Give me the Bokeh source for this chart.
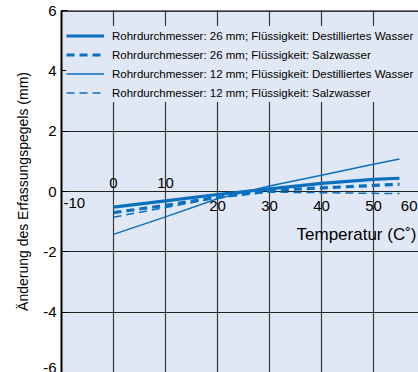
from bokeh.plotting import figure
from bokeh.models import Legend, LegendItem, Span, Label, FixedTicker, Range1d, PrintfTickFormatter
from bokeh.core.properties import value
from bokeh.embed import file_html
from bokeh.resources import INLINE

# data
temps = [0, 10, 20, 30, 40, 50, 55]
d26_dest = [-0.52, -0.31, -0.10, 0.09, 0.27, 0.40, 0.44]
d26_salt = [-0.70, -0.46, -0.19, 0.04, 0.12, 0.20, 0.24]
d12_dest = [-1.42, -0.84, -0.24, 0.18, 0.54, 0.90, 1.08]
d12_salt = [-0.85, -0.53, -0.21, -0.02, -0.04, -0.06, -0.07]
labels = [
    "Rohrdurchmesser: 26 mm; Flüssigkeit: Destilliertes Wasser",
    "Rohrdurchmesser: 26 mm; Flüssigkeit: Salzwasser",
    "Rohrdurchmesser: 12 mm; Flüssigkeit: Destilliertes Wasser",
    "Rohrdurchmesser: 12 mm; Flüssigkeit: Salzwasser",
]
x_ticks = [-10, 0, 10, 20, 30, 40, 50, 60]
x_tick_labels = ["-10", "0", "10", "20", "30", "40", "50", "60"]
y_ticks = [-6, -4, -2, 0, 2, 4, 6]
x_title = "Temperatur (C˚)"
y_title = "Änderung des Erfassungspegels (mm)"

BLUE = "#0b6fc0"
BG = "#e0e8f5"
FONT = "Liberation Sans"

p = figure(width=418, height=372, output_backend="svg", toolbar_location=None,
           x_range=Range1d(-10, 58.65), y_range=Range1d(-6, 6),
           min_border_left=61, min_border_right=0, min_border_top=10, min_border_bottom=0)
p.background_fill_color = BG
p.border_fill_color = "white"
p.outline_line_color = None
p.xaxis.visible = False

p.yaxis.ticker = FixedTicker(ticks=y_ticks)
p.yaxis.formatter = PrintfTickFormatter(format="%d")
p.yaxis.major_tick_out = 0
p.yaxis.major_tick_in = 6
p.yaxis.major_tick_line_color = "black"
p.yaxis.minor_tick_line_color = None
p.yaxis.axis_line_color = "black"
p.yaxis.axis_line_width = 2
p.yaxis.major_label_text_font = FONT
p.yaxis.major_label_text_font_size = "15px"
p.yaxis.major_label_text_color = "black"
p.yaxis.major_label_standoff = 5
p.yaxis.axis_label = y_title
p.yaxis.axis_label_text_font = FONT
p.yaxis.axis_label_text_font_size = "14px"
p.yaxis.axis_label_text_font_style = "normal"
p.yaxis.axis_label_text_color = "black"
p.yaxis.axis_label_standoff = 9

p.xgrid.ticker = FixedTicker(ticks=x_ticks)
p.ygrid.ticker = FixedTicker(ticks=y_ticks)
p.xgrid.grid_line_color = "#3a3a3a"
p.ygrid.grid_line_color = "#222222"
p.xgrid.grid_line_width = 1.2
p.ygrid.grid_line_width = 1.2

p.add_layout(Span(location=6, dimension="width", line_color="black", line_width=2.5))

r1 = p.line(temps, d26_dest, line_color=BLUE, line_width=3.2)
r2 = p.line(temps, d26_salt, line_color=BLUE, line_width=3.2, line_dash="8 5")
r3 = p.line(temps, d12_dest, line_color=BLUE, line_width=1.5)
r4 = p.line(temps, d12_salt, line_color=BLUE, line_width=1.5, line_dash="8 5")

# x tick labels drawn on the zero line
above_x = [t for t in x_ticks if t in (0, 10)]
above = [x_tick_labels[x_ticks.index(t)] for t in above_x]
below_x = [t for t in x_ticks if 10 < t < 60]
below = [x_tick_labels[x_ticks.index(t)] for t in below_x]
p.text(x=above_x, y=[0] * len(above_x), text=above, text_align="center", text_baseline="bottom",
       y_offset=-4, text_font=value(FONT), text_font_size="15px", text_color="black")
p.text(x=below_x, y=[0] * len(below_x), text=below, text_align="center", text_baseline="top",
       y_offset=9, text_font=value(FONT), text_font_size="15px", text_color="black")
p.text(x=[x_ticks[0]], y=[0], text=[x_tick_labels[0]], text_align="left", text_baseline="top",
       x_offset=2, y_offset=6, text_font=value(FONT), text_font_size="15px", text_color="black")
p.add_layout(Label(x=x_ticks[-1], y=0, text=x_tick_labels[-1], text_align="right",
                   text_baseline="top", x_offset=-8, y_offset=-9, text_font=FONT,
                   text_font_size="15px", text_color="black"))

p.add_layout(Label(x=58.65, y=0, text=x_title, text_align="right", text_baseline="alphabetic",
                   x_offset=-2, y_offset=-43, text_font=FONT, text_font_size="17px",
                   text_color="black"))

legend = Legend(items=[LegendItem(label=labels[0], renderers=[r1]),
                       LegendItem(label=labels[1], renderers=[r2]),
                       LegendItem(label=labels[2], renderers=[r3]),
                       LegendItem(label=labels[3], renderers=[r4])],
                location=(5, 270), margin=0, padding=6, spacing=0,
                glyph_width=38, glyph_height=19, label_height=19, label_standoff=8,
                label_width=320,
                label_text_font=FONT, label_text_font_size="11.5px",
                label_text_color="black",
                background_fill_color=BG, background_fill_alpha=1, border_line_color=None)
p.add_layout(legend)

open("out.html", "w").write(file_html(p, INLINE))
